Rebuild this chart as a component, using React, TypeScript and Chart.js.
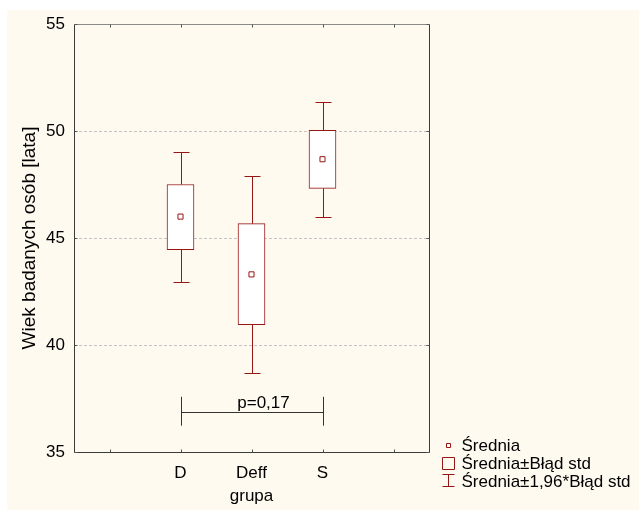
import { useEffect, useRef } from 'react';
import { Chart, registerables } from 'chart.js';

Chart.register(...registerables);

// ---- data ----
const categories = ['', 'D', 'Deff', 'S', ''];
const means = [null, 46.0, 43.3, 48.68, null];
const seLow = [null, 44.45, 40.95, 47.32, null];
const seHigh = [null, 47.5, 45.67, 50.03, null];
const ciLow = [null, 42.95, 38.7, 46.0, null];
const ciHigh = [null, 49.0, 47.9, 51.37, null];
const yTicks = [35, 40, 45, 50, 55];
const pLabel = 'p=0,17';
const pFromIndex = 1;
const pToIndex = 3;
const pLineValue = 36.88;
const pTickLow = 36.23;
const pTickHigh = 37.58;
const legendLabels = ['Średnia', 'Średnia±Błąd std', 'Średnia±1,96*Błąd std'];
const yTitle = 'Wiek badanych osób [lata]';
const xTitle = 'grupa';

const RED = 'rgb(150,22,22)';
const FONT = '"Liberation Sans", Arial, sans-serif';
const FS = 17;

const overlay = {
  id: 'overlay',
  afterDatasetsDraw(chart: any) {
    const { ctx, chartArea, scales } = chart;
    const xs = scales.x;
    const ys = scales.y;
    ctx.save();
    // whiskers
    ctx.strokeStyle = RED;
    ctx.lineWidth = 1;
    for (let i = 0; i < categories.length; i++) {
      if (means[i] == null) continue;
      const x = Math.round(xs.getPixelForValue(i)) + 0.5;
      const yh = Math.round(ys.getPixelForValue(ciHigh[i] as number)) + 0.5;
      const yl = Math.round(ys.getPixelForValue(ciLow[i] as number)) + 0.5;
      const bh = ys.getPixelForValue(seHigh[i] as number);
      const bl = ys.getPixelForValue(seLow[i] as number);
      ctx.beginPath();
      ctx.moveTo(x, bh);
      ctx.lineTo(x, yh);
      ctx.moveTo(x - 8, yh);
      ctx.lineTo(x + 8, yh);
      ctx.moveTo(x, bl);
      ctx.lineTo(x, yl);
      ctx.moveTo(x - 8, yl);
      ctx.lineTo(x + 8, yl);
      ctx.stroke();
    }
    // frame
    const L = Math.round(chartArea.left) + 0.5;
    const R = Math.round(chartArea.right) + 0.5;
    const T = Math.round(chartArea.top) + 0.5;
    const B = Math.round(chartArea.bottom) + 0.5;
    ctx.strokeStyle = '#3a3a3a';
    ctx.beginPath();
    ctx.moveTo(L, T);
    ctx.lineTo(L, B);
    ctx.lineTo(R, B);
    ctx.lineTo(R, T);
    ctx.stroke();
    ctx.strokeStyle = '#8a8a8a';
    ctx.beginPath();
    ctx.moveTo(L, T);
    ctx.lineTo(R, T);
    ctx.stroke();
    // inner ticks
    ctx.strokeStyle = '#555';
    ctx.beginPath();
    for (let i = 0; i < categories.length; i++) {
      const x = Math.round(xs.getPixelForValue(i)) + 0.5;
      ctx.moveTo(x, T);
      ctx.lineTo(x, T + 3);
      ctx.moveTo(x, B);
      ctx.lineTo(x, B - 3);
    }
    for (const v of yTicks) {
      const y = Math.round(ys.getPixelForValue(v)) + 0.5;
      ctx.moveTo(L, y);
      ctx.lineTo(L + 3, y);
      ctx.moveTo(R, y);
      ctx.lineTo(R - 3, y);
    }
    ctx.stroke();
    // p-value bracket
    const px1 = Math.round(xs.getPixelForValue(pFromIndex)) + 0.5;
    const px2 = Math.round(xs.getPixelForValue(pToIndex)) + 0.5;
    const py = Math.round(ys.getPixelForValue(pLineValue)) + 0.5;
    const pt1 = ys.getPixelForValue(pTickHigh);
    const pt2 = ys.getPixelForValue(pTickLow);
    ctx.strokeStyle = '#333';
    ctx.beginPath();
    ctx.moveTo(px1, py);
    ctx.lineTo(px2, py);
    ctx.moveTo(px1, pt1);
    ctx.lineTo(px1, pt2);
    ctx.moveTo(px2, pt1);
    ctx.lineTo(px2, pt2);
    ctx.stroke();
    ctx.fillStyle = '#000';
    ctx.font = `${FS}px ${FONT}`;
    ctx.textAlign = 'center';
    ctx.textBaseline = 'alphabetic';
    ctx.fillText(pLabel, (px1 + px2) / 2 + 11, py - 5);
    // legend
    const lx = chartArea.right + 19;
    const ly = chartArea.bottom - 7;
    ctx.strokeStyle = RED;
    ctx.fillStyle = '#fff';
    // mean symbol
    ctx.beginPath();
    ctx.rect(Math.round(lx) - 2 + 0.5, Math.round(ly) - 2 + 0.5, 4, 4);
    ctx.fill();
    ctx.stroke();
    // box symbol
    ctx.beginPath();
    ctx.rect(Math.round(lx) - 6 + 0.5, Math.round(ly) + 12 + 0.5, 12, 12);
    ctx.stroke();
    // whisker symbol
    const wx = Math.round(lx) + 0.5;
    const wt = Math.round(ly) + 29 + 0.5;
    const wb = Math.round(ly) + 41 + 0.5;
    ctx.beginPath();
    ctx.moveTo(wx - 6, wt);
    ctx.lineTo(wx + 6, wt);
    ctx.moveTo(wx, wt);
    ctx.lineTo(wx, wb);
    ctx.moveTo(wx - 6, wb);
    ctx.lineTo(wx + 6, wb);
    ctx.stroke();
    ctx.fillStyle = '#000';
    ctx.textAlign = 'left';
    ctx.textBaseline = 'middle';
    legendLabels.forEach((t, i) => {
      ctx.fillText(t, lx + 13.5, ly + i * 18 + 1);
    });
    ctx.restore();
  },
};

export default function App() {
  const ref = useRef<HTMLCanvasElement | null>(null);
  useEffect(() => {
    document.body.style.margin = '0';
    const canvas = ref.current;
    if (!canvas) return;
    const chart = new Chart(canvas, {
      type: 'bar',
      data: {
        labels: categories,
        datasets: [
          {
            type: 'line',
            label: legendLabels[0],
            data: means as any,
            showLine: false,
            pointStyle: 'rect',
            pointRadius: 3.6,
            pointBorderWidth: 1,
            pointBackgroundColor: '#fff',
            pointBorderColor: RED,
            borderColor: RED,
            backgroundColor: '#fff',
          } as any,
          {
            type: 'bar',
            label: legendLabels[1],
            data: categories.map((_, i) =>
              seLow[i] == null ? null : [seLow[i], seHigh[i]]
            ) as any,
            backgroundColor: '#fff',
            borderColor: RED,
            borderWidth: 1,
            borderSkipped: false,
            barThickness: 27,
          } as any,
        ],
      },
      options: {
        responsive: false,
        animation: false,
        layout: { padding: { top: 14, right: 210, left: 0, bottom: 0 } },
        plugins: {
          legend: { display: false },
          tooltip: { enabled: false },
        },
        scales: {
          x: {
            type: 'category',
            offset: true,
            grid: { display: false, drawTicks: false },
            border: { display: false },
            ticks: {
              color: '#000',
              font: { family: FONT, size: FS },
              padding: 11,
              maxRotation: 0,
              autoSkip: false,
            },
            title: {
              display: true,
              text: xTitle,
              color: '#000',
              font: { family: FONT, size: FS },
              padding: { top: 0, bottom: 3 },
            },
            afterFit: (s: any) => {
              s.height = 58;
              s.paddingLeft = 0;
              s.paddingRight = 0;
            },
          },
          y: {
            min: 35,
            max: 55,
            afterBuildTicks: (s: any) => {
              s.ticks = yTicks.map((v) => ({ value: v }));
            },
            grid: {
              color: '#c4c4c4',
              lineWidth: 1,
              drawTicks: false,
            },
            border: { display: false, dash: [3, 2] },
            ticks: {
              color: '#000',
              font: { family: FONT, size: FS },
              padding: 9,
            },
            title: {
              display: true,
              text: yTitle,
              color: '#000',
              font: { family: FONT, size: 19 },
              padding: { top: 11, bottom: 0 },
            },
            afterFit: (s: any) => {
              s.width = 67;
              s.paddingTop = 0;
              s.paddingBottom = 0;
            },
          },
        },
      },
      plugins: [overlay],
    });
    return () => chart.destroy();
  }, []);
  return (
    <div style={{ position: 'relative', width: 639, height: 510, background: '#fff' }}>
      <div
        style={{
          position: 'absolute',
          left: 7,
          top: 10,
          width: 632,
          height: 500,
          background: '#FFFAF0',
        }}
      >
        <canvas ref={ref} width={632} height={500} style={{ width: 632, height: 500, display: 'block' }} />
      </div>
    </div>
  );
}
